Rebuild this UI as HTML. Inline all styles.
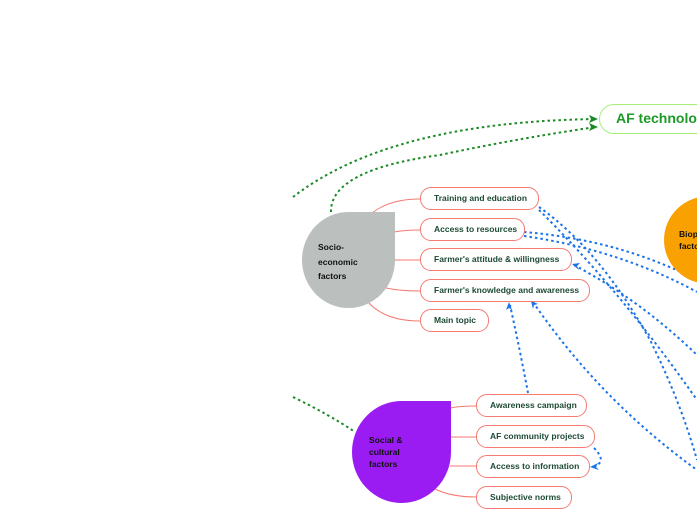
<!DOCTYPE html>
<html><head><meta charset="utf-8"><style>
html,body{margin:0;padding:0;width:697px;height:520px;overflow:hidden;background:#fff;font-family:"Liberation Sans",sans-serif;}
.b{position:absolute;box-sizing:border-box;border:1.3px solid #f47a72;border-radius:11px;background:#fff;font-size:8.5px;font-weight:bold;color:#1d4a35;padding-left:13px;line-height:20px;height:23px;}
.t{position:absolute;font-size:8.5px;font-weight:bold;color:#111;line-height:14.5px;}
</style></head><body>
<svg width="697" height="520" style="position:absolute;left:0;top:0">
<g fill="none" stroke="#f47a72" stroke-width="1">
<path d="M372 213 Q390 199 420 199"/>
<path d="M394 232 Q405 230 420 230"/>
<path d="M394 260 L420 260"/>
<path d="M386 288 Q400 291 420 291"/>
<path d="M368 302 Q385 321 420 321"/>
<path d="M450 408 Q460 406 476 406"/>
<path d="M450 437 L476 437"/>
<path d="M450 466 L476 466"/>
<path d="M433 488 Q450 497 476 497"/>
</g>
<g fill="none" stroke="#1a8a24" stroke-width="2" stroke-dasharray="2.5,3">
<path d="M293 197 Q390 122 596 119"/>
<path d="M331 212 Q330 170 440 155 Q520 138 596 127"/>
<path d="M293 397 Q330 415 355 432"/>
</g>
<g fill="#1a8a24"><path d="M598 119 l-9 -4 l2 4 l-2 4z"/><path d="M598 127 l-9 -4 l2 4 l-2 4z"/></g>
<g fill="none" stroke="#1a73e8" stroke-width="2" stroke-dasharray="2.5,3">
<path d="M539 207 Q600 250 650 340 Q680 400 697 460"/>
<path d="M539 210 Q620 290 697 400"/>
<path d="M524 232 Q620 240 697 280"/>
<path d="M524 236 Q620 250 697 292"/>
<path d="M574 265 Q640 300 697 355"/>
<path d="M533 302 Q600 400 697 470"/>
<path d="M528 393 Q520 350 510 305"/>
<path d="M594 448 Q608 462 593 467"/>
</g>
<g fill="#1a73e8"><path d="M572 264 l8 -1 l-3 3 l2 4z"/><path d="M531 301 l2 8 l1 -4 l4 -1z"/><path d="M509 302 l-3 8 l3 -2 l3 2z"/><path d="M590 467 l8 -4 l-2 4 l3 3z"/></g>
</svg>
<div style="position:absolute;left:302px;top:212px;width:93px;height:96px;background:#bbbfbe;border-radius:50% 0 50% 50%"></div>
<div class="t" style="left:318px;top:240px">Socio-<br>economic<br>factors</div>
<div style="position:absolute;left:352px;top:401px;width:99px;height:102px;background:#9b1cf2;border-radius:50% 0 50% 50%"></div>
<div class="t" style="left:369px;top:434px;line-height:12px">Social &amp;<br>cultural<br>factors</div>
<div style="position:absolute;left:664px;top:196px;width:90px;height:88px;background:#f9a100;border-radius:50%"></div>
<div class="t" style="left:679px;top:228px;line-height:12px">Biop<br>facto</div>
<div style="position:absolute;left:599px;top:104px;width:130px;height:30px;box-sizing:border-box;border:1.5px solid #a6f07a;border-radius:15px;background:#fff;font-size:14px;font-weight:bold;color:#1d9a2a;padding-left:16px;line-height:27px;white-space:nowrap">AF technology</div>
<div class="b" style="left:420px;top:187px;width:119px">Training and education</div>
<div class="b" style="left:420px;top:218px;width:105px">Access to resources</div>
<div class="b" style="left:420px;top:248px;width:152px">Farmer's attitude &amp; willingness</div>
<div class="b" style="left:420px;top:279px;width:170px">Farmer's knowledge and awareness</div>
<div class="b" style="left:420px;top:309px;width:69px">Main topic</div>
<div class="b" style="left:476px;top:394px;width:111px">Awareness campaign</div>
<div class="b" style="left:476px;top:425px;width:119px">AF community projects</div>
<div class="b" style="left:476px;top:455px;width:114px">Access to information</div>
<div class="b" style="left:476px;top:486px;width:96px">Subjective norms</div>
</body></html>
